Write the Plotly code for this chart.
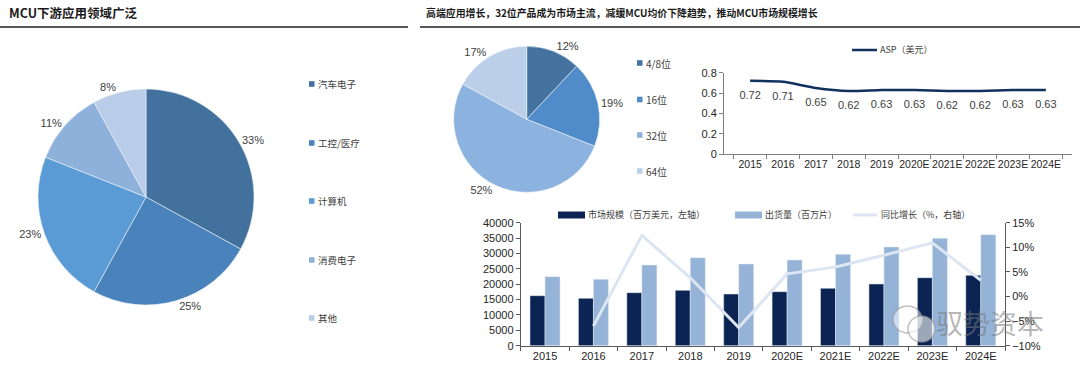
import plotly.graph_objects as go

# ---------------- data ----------------
app_labels = ["汽车电子", "工控/医疗", "计算机", "消费电子", "其他"]
app_values = [33, 25, 23, 11, 8]
app_colors = ["#41719C", "#4A82BC", "#5B9BD5", "#8EB1DB", "#B9CDE8"]

bit_labels = ["4/8位", "16位", "32位", "64位"]
bit_values = [12, 19, 52, 17]
bit_colors = ["#44739F", "#4F8CC9", "#8CB2DF", "#BCCFE9"]

years = ["2015", "2016", "2017", "2018", "2019", "2020E", "2021E", "2022E", "2023E", "2024E"]
asp = [0.72, 0.71, 0.65, 0.62, 0.63, 0.63, 0.62, 0.62, 0.63, 0.63]
market_size = [16260, 15400, 17240, 18000, 16800, 17560, 18660, 20060, 22110, 22890]
shipments = [22440, 21590, 26240, 28620, 26570, 27870, 29720, 32100, 34930, 36100]
growth = [None, -6.0, 12.4, 3.8, -6.3, 4.6, 6.0, 8.4, 10.9, 3.3]

title_left = "MCU下游应用领域广泛"
title_right = "高端应用增长，32位产品成为市场主流，减缓MCU均价下降趋势，推动MCU市场规模增长"

W, H = 1080, 369
def px(x):
    return x / W
def py(y):
    return 1 - y / H

NUM_FONT = "Liberation Sans, Arial, sans-serif"
CJK_FONT = "Noto Sans CJK SC, sans-serif"
TXT = "#404040"

fig = go.Figure()

# ---------- pie 1 ----------
fig.add_trace(go.Pie(
    labels=app_labels, values=app_values, sort=False, direction="clockwise", rotation=0,
    marker=dict(colors=app_colors, line=dict(color="#EAF0F8", width=0.6)),
    texttemplate="%{value}%", textposition="outside",
    textfont=dict(family=NUM_FONT, size=11, color=TXT),
    domain=dict(x=[px(38), px(254)], y=[py(305), py(89)]),
    showlegend=False, hoverinfo="label+percent",
))

# ---------- pie 2 ----------
fig.add_trace(go.Pie(
    labels=bit_labels, values=bit_values, sort=False, direction="clockwise", rotation=0,
    marker=dict(colors=bit_colors, line=dict(color="#EAF0F8", width=0.6)),
    texttemplate="%{value}%", textposition="outside",
    textfont=dict(family=NUM_FONT, size=11, color=TXT),
    domain=dict(x=[px(453.7), px(599.7)], y=[py(192.3), py(46.3)]),
    showlegend=False, hoverinfo="label+percent",
))

# ---------- ASP line ----------
fig.add_trace(go.Scatter(
    x=years, y=asp, mode="lines+markers+text", text=[f"{v:.2f}" for v in asp],
    textposition="bottom center",
    textfont=dict(family=NUM_FONT, size=11, color=TXT),
    marker=dict(size=14, color="rgba(0,0,0,0)"),
    line=dict(color="#13315F", width=2.5, shape="spline", smoothing=0.6),
    xaxis="x", yaxis="y", showlegend=False, cliponaxis=False,
))

# ---------- bar chart ----------
fig.add_trace(go.Bar(
    x=years, y=market_size, name="市场规模（百万美元，左轴）",
    marker=dict(color="#0B2453"), xaxis="x2", yaxis="y2", showlegend=False,
))
fig.add_trace(go.Bar(
    x=years, y=shipments, name="出货量（百万片）",
    marker=dict(color="#95B3D7"), xaxis="x2", yaxis="y2", showlegend=False,
))
fig.add_trace(go.Scatter(
    x=years, y=growth, name="同比增长（%，右轴）", mode="lines",
    line=dict(color="#DCE6F2", width=3), xaxis="x2", yaxis="y3",
    showlegend=False, connectgaps=False,
))

def axis_common(color="#7F7F7F", size=11):
    return dict(showgrid=False, zeroline=False, showline=True, linecolor=color,
                linewidth=1, ticks="outside", ticklen=4, tickcolor=color,
                automargin=False, tickangle=0,
                tickfont=dict(family=NUM_FONT, size=size, color="#262626"))

fig.update_layout(
    width=W, height=H, margin=dict(l=0, r=0, t=0, b=0, autoexpand=False),
    paper_bgcolor="white", plot_bgcolor="white",
    barmode="group", bargap=0.38, bargroupgap=0,
    xaxis=dict(domain=[px(724), px(1072)], anchor="y", type="category",
               tickson="boundaries", **axis_common(size=10.5)),
    yaxis=dict(domain=[py(154), py(72.7)], anchor="x", range=[0, 0.8],
               tickvals=[0, 0.2, 0.4, 0.6, 0.8], ticktext=["0", "0.2", "0.4", "0.6", "0.8"],
               **axis_common()),
    xaxis2=dict(domain=[px(520.8), px(1005)], anchor="y2", type="category",
                tickson="boundaries", **axis_common("#595959")),
    yaxis2=dict(domain=[py(345.7), py(222.7)], anchor="x2", range=[0, 40000],
                dtick=5000, tickformat="d", **axis_common("#595959")),
    yaxis3=dict(overlaying="y2", side="right", anchor="x2", range=[-10, 15],
                dtick=5, ticksuffix="%", **axis_common("#595959")),
    showlegend=False,
)

annotations = []
shapes = []

# titles + rules
annotations.append(dict(x=px(7), y=py(13), xref="paper", yref="paper", xanchor="left",
                        yanchor="middle", showarrow=False, text=f"<b>{title_left}</b>",
                        font=dict(family=CJK_FONT, size=12.5, color="#1A1A1A")))
annotations.append(dict(x=px(424), y=py(13), xref="paper", yref="paper", xanchor="left",
                        yanchor="middle", showarrow=False, text=f"<b>{title_right}</b>",
                        font=dict(family=CJK_FONT, size=9.9, color="#1A1A1A")))
shapes.append(dict(type="line", xref="paper", yref="paper", x0=0, x1=px(408),
                   y0=py(27), y1=py(27), line=dict(color="#595959", width=2)))
shapes.append(dict(type="line", xref="paper", yref="paper", x0=px(420), x1=1,
                   y0=py(27), y1=py(27), line=dict(color="#595959", width=2)))

# pie 1 legend
leg1_y = [84, 143, 201, 260, 318]
for lab, col, yy in zip(app_labels, app_colors, leg1_y):
    shapes.append(dict(type="rect", xref="paper", yref="paper", x0=px(309), x1=px(314.5),
                       y0=py(yy + 2.8), y1=py(yy - 2.8), fillcolor=col, line=dict(width=0)))
    annotations.append(dict(x=px(316), y=py(yy), xref="paper", yref="paper", xanchor="left",
                            yanchor="middle", showarrow=False, text=lab,
                            font=dict(family=CJK_FONT, size=9.5, color=TXT)))

# pie 2 legend
leg2_y = [63, 99.5, 135, 171]
for lab, col, yy in zip(bit_labels, bit_colors, leg2_y):
    shapes.append(dict(type="rect", xref="paper", yref="paper", x0=px(637), x1=px(642.5),
                       y0=py(yy + 2.8), y1=py(yy - 2.8), fillcolor=col, line=dict(width=0)))
    annotations.append(dict(x=px(644), y=py(yy), xref="paper", yref="paper", xanchor="left",
                            yanchor="middle", showarrow=False, text=lab,
                            font=dict(family=CJK_FONT, size=10, color=TXT)))

# ASP legend
shapes.append(dict(type="line", xref="paper", yref="paper", x0=px(852), x1=px(877),
                   y0=py(50), y1=py(50), line=dict(color="#13315F", width=2.5)))
annotations.append(dict(x=px(878), y=py(50), xref="paper", yref="paper", xanchor="left",
                        yanchor="middle", showarrow=False, text="ASP（美元）",
                        font=dict(family=CJK_FONT, size=9, color=TXT)))

# bar chart legend
shapes.append(dict(type="rect", xref="paper", yref="paper", x0=px(558), x1=px(585),
                   y0=py(218.5), y1=py(211.5), fillcolor="#0B2453", line=dict(width=0)))
annotations.append(dict(x=px(586), y=py(215), xref="paper", yref="paper", xanchor="left",
                        yanchor="middle", showarrow=False, text="市场规模（百万美元，左轴）",
                        font=dict(family=CJK_FONT, size=9, color=TXT)))
shapes.append(dict(type="rect", xref="paper", yref="paper", x0=px(735), x1=px(762),
                   y0=py(218.5), y1=py(211.5), fillcolor="#95B3D7", line=dict(width=0)))
annotations.append(dict(x=px(763), y=py(215), xref="paper", yref="paper", xanchor="left",
                        yanchor="middle", showarrow=False, text="出货量（百万片）",
                        font=dict(family=CJK_FONT, size=9, color=TXT)))
shapes.append(dict(type="line", xref="paper", yref="paper", x0=px(853), x1=px(877),
                   y0=py(215), y1=py(215), line=dict(color="#DCE6F2", width=3)))
annotations.append(dict(x=px(879), y=py(215), xref="paper", yref="paper", xanchor="left",
                        yanchor="middle", showarrow=False, text="同比增长（%，右轴）",
                        font=dict(family=CJK_FONT, size=9, color=TXT)))

# watermark
shapes.append(dict(type="circle", xref="paper", yref="paper", x0=px(893), x1=px(922),
                   y0=py(333), y1=py(306), line=dict(color="rgba(150,150,150,0.6)", width=1.5),
                   fillcolor="rgba(255,255,255,0.5)"))
shapes.append(dict(type="circle", xref="paper", yref="paper", x0=px(908), x1=px(935),
                   y0=py(342), y1=py(316), line=dict(color="rgba(150,150,150,0.6)", width=1.5),
                   fillcolor="rgba(255,255,255,0.6)"))
annotations.append(dict(x=px(990), y=py(322), xref="paper", yref="paper", xanchor="center",
                        yanchor="middle", showarrow=False, text="驭势资本",
                        font=dict(family=CJK_FONT, size=27, color="rgba(120,120,120,0.55)")))

fig.update_layout(annotations=annotations, shapes=shapes)

fig.write_html("out.html", config={"displayModeBar": False},
               post_script="document.body.style.margin='0';")
